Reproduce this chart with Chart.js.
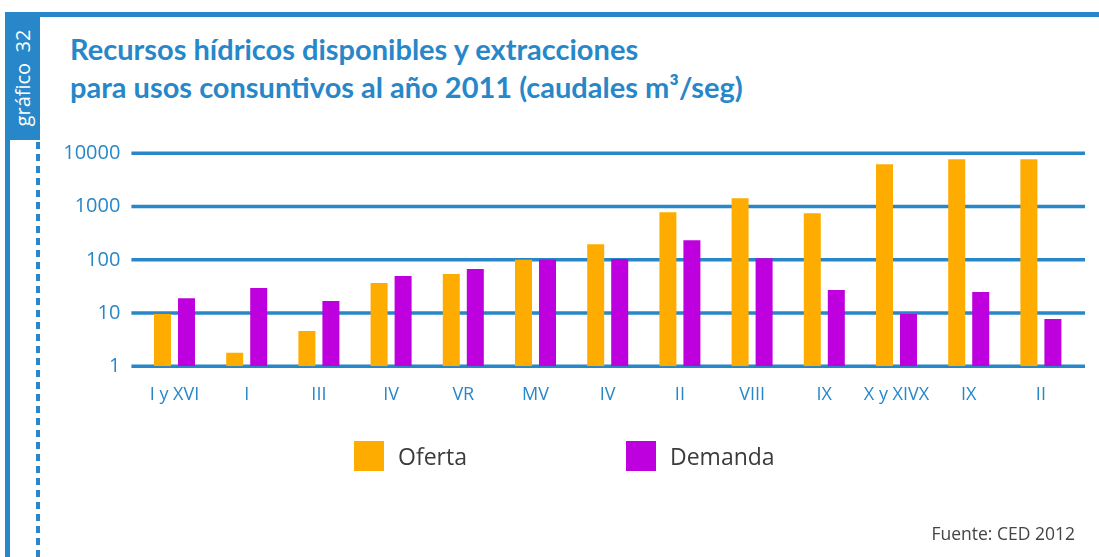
<!DOCTYPE html>
<html>
<head>
<meta charset="utf-8">
<script src="https://cdn.jsdelivr.net/npm/chart.js@4.4.1/dist/chart.umd.min.js"></script>
<style>
html,body{margin:0;padding:0;background:#fff;}
body{width:1099px;height:557px;position:relative;overflow:hidden;font-family:"Open Sans",sans-serif;}
#topline{position:absolute;left:5px;top:12px;width:1094px;height:5px;background:#2787c8;}
#banner{position:absolute;left:5px;top:12px;width:35px;height:128px;background:#2787c8;}
#bannertext{position:absolute;left:23px;top:78px;transform:translate(-50%,-50%) rotate(-90deg);color:#fff;font-size:20px;white-space:nowrap;line-height:22px;}
#vline{position:absolute;left:5px;top:140px;width:5px;height:417px;background:#2787c8;}
#dline{position:absolute;left:36px;top:142px;width:4px;height:415px;background:repeating-linear-gradient(to bottom,#2787c8 0px,#2787c8 7px,transparent 7px,transparent 12px);}
#title{position:absolute;left:70px;top:30px;color:#2787c8;font-family:Lato,"Open Sans",sans-serif;font-weight:700;font-size:29px;line-height:38px;white-space:nowrap;}
#chart{position:absolute;left:0;top:0;}
#legend{position:absolute;left:0;top:441px;width:1099px;height:30px;}
.li{position:absolute;top:0;height:30px;display:flex;align-items:center;}
.box{width:30px;height:30px;margin-right:14px;}
.lt{font-size:23px;color:#3b3b3b;line-height:30px;}
#source{position:absolute;right:24px;top:521px;font-size:17.5px;color:#444;white-space:nowrap;}
</style>
</head>
<body>
<div id="topline"></div>
<div id="banner"></div>
<div id="bannertext">gráfico&nbsp;&nbsp;32</div>
<div id="vline"></div>
<div id="dline"></div>
<div id="title">Recursos hídricos disponibles y extracciones<br>para usos consuntivos al año 2011 (caudales m³/seg)</div>
<canvas id="chart" width="1099" height="557"></canvas>
<div id="legend"></div>
<div id="source">Fuente: CED 2012</div>
<script>
const categories = ['I y XVI','I','III','IV','VR','MV','IV','II','VIII','IX','X y XIVX','IX','II'];
const oferta  = [9.6, 1.8, 4.6, 36.5, 54, 100, 196, 783, 1433, 750, 6220, 7740, 7740];
const demanda = [19, 29.5, 16.8, 49.4, 67, 101, 103, 234, 107, 27, 9.6, 24.8, 7.7];
const yTicks = [1, 10, 100, 1000, 10000];
const seriesNames = ['Oferta', 'Demanda'];
const seriesColors = ['#FFAC00', '#BF00DE'];

const BLUE = '#2787c8';

const gridPlugin = {
  id: 'extGrid',
  beforeDatasetsDraw(chart) {
    const {ctx, chartArea, scales: {y}} = chart;
    ctx.save();
    ctx.strokeStyle = BLUE;
    ctx.lineWidth = 3.5;
    y.ticks.forEach(t => {
      const py = y.getPixelForValue(t.value);
      ctx.beginPath();
      ctx.moveTo(chartArea.left - 7, py);
      ctx.lineTo(chartArea.right + 8, py);
      ctx.stroke();
    });
    ctx.restore();
  }
};

const chart = new Chart(document.getElementById('chart'), {
  type: 'bar',
  data: {
    labels: categories,
    datasets: [
      {label: seriesNames[0], data: oferta, backgroundColor: seriesColors[0], borderWidth: 0, categoryPercentage: 0.665, barPercentage: 0.708},
      {label: seriesNames[1], data: demanda, backgroundColor: seriesColors[1], borderWidth: 0, categoryPercentage: 0.665, barPercentage: 0.708}
    ]
  },
  options: {
    responsive: false,
    animation: false,
    layout: {padding: {left: 50, right: 22, top: 153.3, bottom: 150.7}},
    plugins: {legend: {display: false}, tooltip: {enabled: false}, title: {display: false}},
    scales: {
      x: {
        offset: true,
        grid: {display: false, drawTicks: false},
        border: {display: false},
        ticks: {color: BLUE, font: {family: 'Open Sans', size: 18}, padding: 18, maxRotation: 0, autoSkip: false},
        afterFit: s => { s.height = 40; }
      },
      y: {
        type: 'logarithmic',
        min: 1, max: 10000,
        grid: {display: false, drawTicks: false},
        border: {display: false},
        afterBuildTicks: s => { s.ticks = yTicks.map(v => ({value: v})); },
        ticks: {color: BLUE, font: {family: 'Open Sans', size: 20}, padding: 18, callback: v => String(v)},
        afterFit: s => { s.width = 88.4; }
      }
    }
  },
  plugins: [gridPlugin]
});

// HTML legend built from the chart's datasets
const legend = document.getElementById('legend');
const legendX = [354, 626];
chart.data.datasets.forEach((ds, i) => {
  const item = document.createElement('div');
  item.className = 'li';
  item.style.left = legendX[i] + 'px';
  const box = document.createElement('div');
  box.className = 'box';
  box.style.background = ds.backgroundColor;
  const txt = document.createElement('span');
  txt.className = 'lt';
  txt.textContent = ds.label;
  item.appendChild(box);
  item.appendChild(txt);
  legend.appendChild(item);
});
</script>
</body>
</html>
